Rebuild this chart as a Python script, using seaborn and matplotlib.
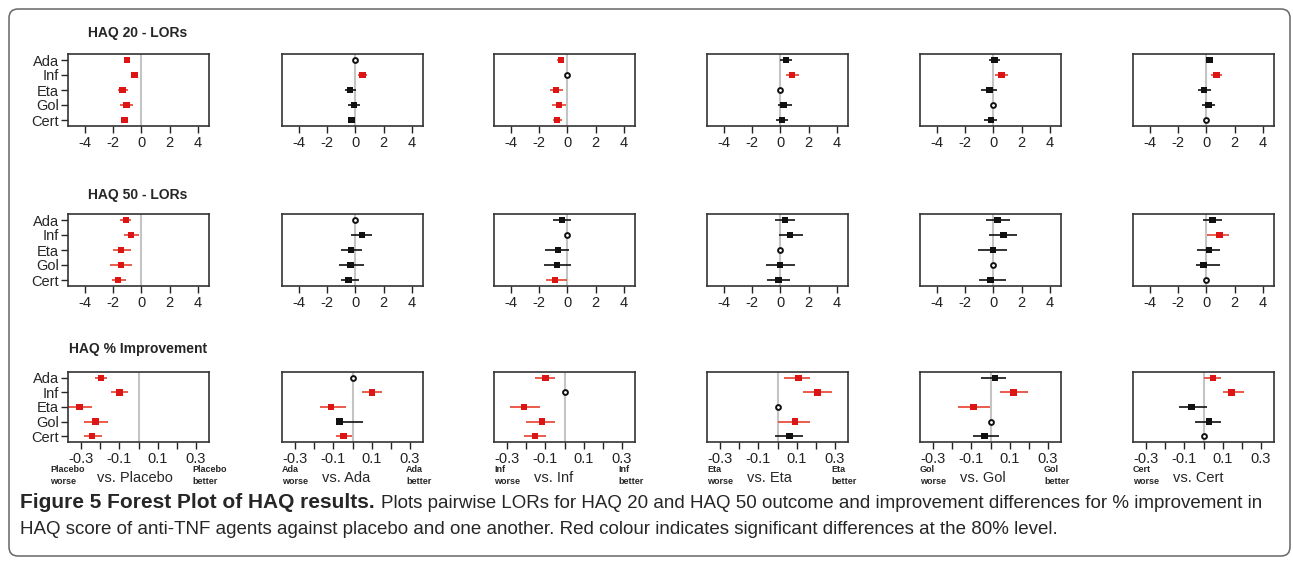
import numpy as np
import pandas as pd
import matplotlib
matplotlib.use("Agg")
import matplotlib.pyplot as plt
import seaborn as sns
from matplotlib.patches import FancyBboxPatch
from matplotlib.transforms import IdentityTransform

# ---------------------------------------------------------------
# data (None = comparator itself)
# ---------------------------------------------------------------
drugs = ["Ada", "Inf", "Eta", "Gol", "Cert"]
comparators = ["Placebo", "Ada", "Inf", "Eta", "Gol", "Cert"]
row_titles = ["HAQ 20 - LORs", "HAQ 50 - LORs", "HAQ % Improvement"]

haq20_est = [[-1.0, -0.47, -1.32, -1.06, -1.2],
             [None, 0.5, -0.38, -0.1, -0.26],
             [-0.45, None, -0.79, -0.6, -0.74],
             [0.4, 0.83, None, 0.24, 0.12],
             [0.07, 0.57, -0.28, None, -0.17],
             [0.21, 0.73, -0.17, 0.17, None]]
haq20_lo = [[-1.2, -0.7, -1.67, -1.5, -1.36],
            [None, 0.17, -0.74, -0.5, -0.43],
            [-0.76, None, -1.24, -1.1, -1.05],
            [0.0, 0.38, None, -0.19, -0.3],
            [-0.33, 0.1, -0.88, None, -0.64],
            [-0.02, 0.36, -0.59, -0.28, None]]
haq20_hi = [[-0.8, -0.25, -0.95, -0.6, -0.97],
            [None, 0.85, 0.05, 0.33, 0.0],
            [-0.21, None, -0.31, -0.07, -0.38],
            [0.83, 1.3, None, 0.83, 0.57],
            [0.5, 1.07, 0.26, None, 0.28],
            [0.5, 1.09, 0.36, 0.62, None]]
haq20_sig = [[1, 1, 1, 1, 1], [0, 1, 0, 0, 0], [1, 0, 1, 1, 1],
             [0, 1, 0, 0, 0], [0, 1, 0, 0, 0], [0, 1, 0, 0, 0]]

haq50_est = [[-1.1, -0.73, -1.43, -1.43, -1.65],
             [None, 0.47, -0.29, -0.36, -0.48],
             [-0.38, None, -0.67, -0.74, -0.86],
             [0.33, 0.69, None, -0.02, -0.14],
             [0.31, 0.71, -0.02, None, -0.21],
             [0.45, 0.92, 0.19, -0.19, None]]
haq50_lo = [[-1.53, -1.25, -2.02, -2.19, -2.1],
            [None, -0.29, -1.02, -1.19, -1.0],
            [-1.05, None, -1.57, -1.64, -1.52],
            [-0.4, -0.07, None, -1.0, -0.93],
            [-0.55, -0.29, -1.07, None, -1.0],
            [-0.21, 0.07, -0.69, -0.73, None]]
haq50_hi = [[-0.7, -0.14, -0.75, -0.66, -1.06],
            [None, 1.19, 0.47, 0.59, 0.24],
            [0.29, None, 0.14, 0.29, -0.02],
            [1.07, 1.64, None, 1.07, 0.67],
            [1.19, 1.71, 1.0, None, 0.88],
            [1.09, 1.61, 0.97, 0.97, None]]
haq50_sig = [[1, 1, 1, 1, 1], [0, 0, 0, 0, 0], [0, 0, 0, 0, 1],
             [0, 0, 0, 0, 0], [0, 0, 0, 0, 0], [0, 1, 0, 0, 0]]

imp_est = [[-0.198, -0.1, -0.309, -0.226, -0.243],
           [None, 0.102, -0.113, -0.068, -0.047],
           [-0.099, None, -0.212, -0.118, -0.154],
           [0.111, 0.209, None, 0.091, 0.063],
           [0.023, 0.121, -0.089, None, -0.032],
           [0.05, 0.147, -0.062, 0.03, None]]
imp_lo = [[-0.23, -0.146, -0.38, -0.288, -0.288],
          [None, 0.048, -0.17, -0.077, -0.086],
          [-0.154, None, -0.284, -0.203, -0.214],
          [0.036, 0.132, None, 0.0, -0.014],
          [-0.052, 0.05, -0.169, None, -0.091],
          [0.004, 0.1, -0.13, -0.043, None]]
imp_hi = [[-0.164, -0.056, -0.242, -0.162, -0.194],
          [None, 0.156, -0.036, 0.054, -0.005],
          [-0.05, None, -0.127, -0.048, -0.097],
          [0.173, 0.284, None, 0.173, 0.132],
          [0.083, 0.199, -0.005, None, 0.043],
          [0.092, 0.215, 0.016, 0.092, None]]
imp_sig = [[1, 1, 1, 1, 1], [0, 1, 1, 0, 1], [1, 0, 1, 1, 1],
           [1, 1, 0, 1, 0], [0, 1, 1, 0, 0], [1, 1, 0, 0, 0]]

lor_ticks = [-4, -2, 0, 2, 4]
lor_ticklabels = ["-4", "-2", "0", "2", "4"]
imp_ticks = [-0.3, -0.2, -0.1, 0.0, 0.1, 0.2, 0.3]
imp_ticklabels = ["-0.3", "", "-0.1", "", "0.1", "", "0.3"]

caption_bold = "Figure 5 Forest Plot of HAQ results."
caption_line1 = ("Plots pairwise LORs for HAQ 20 and HAQ 50 outcome and improvement "
                 "differences for % improvement in")
caption_line2 = ("HAQ score of anti-TNF agents against placebo and one another. Red colour "
                 "indicates significant differences at the 80% level.")

# ---------------------------------------------------------------
# style
# ---------------------------------------------------------------
sns.set_style("white")
plt.rcParams["font.family"] = ["Liberation Sans", "DejaVu Sans"]
plt.rcParams["axes.unicode_minus"] = False

RED = "#dc1414"
RED_LINE = "#e8402f"
BLACK = "#111111"
W, H = 1293, 563

fig = plt.figure(figsize=(W / 100, H / 100), dpi=100)

col_left = [68, 282, 494, 707, 920, 1133]
col_w = 141
row_top = [54, 214, 372]
row_h = [72, 72, 70]

rows = [
    (haq20_est, haq20_lo, haq20_hi, haq20_sig),
    (haq50_est, haq50_lo, haq50_hi, haq50_sig),
    (imp_est, imp_lo, imp_hi, imp_sig),
]

for r, (est, lo, hi, sig) in enumerate(rows):
    for c in range(6):
        ax = fig.add_axes([col_left[c] / W, 1 - (row_top[r] + row_h[r]) / H,
                           col_w / W, row_h[r] / H])
        pos = np.arange(1, 6)
        df = pd.DataFrame({"drug": drugs, "pos": pos, "est": est[c],
                           "lo": lo[c], "hi": hi[c], "sig": sig[c]})
        ref = df[df["est"].isna()]
        df = df.dropna()
        df["sig"] = df["sig"].astype(bool)

        ax.axvline(0, color="#c4c4c4", lw=1.5, zorder=1)
        ax.hlines(df["pos"], df["lo"], df["hi"],
                  colors=[RED_LINE if s else BLACK for s in df["sig"]],
                  lw=1.2, zorder=2)
        sns.scatterplot(data=df, x="est", y="pos", hue="sig",
                        palette={True: RED, False: BLACK}, marker="s", s=22,
                        linewidth=0, legend=False, ax=ax, zorder=3)
        if len(ref):
            ax.scatter(np.zeros(len(ref)), ref["pos"], s=12, facecolor="white",
                       edgecolor=BLACK, linewidth=1.4, zorder=4)

        if r < 2:
            ax.set_xlim(-5.2, 4.8)
            ax.set_xticks(lor_ticks)
            ax.set_xticklabels(lor_ticklabels)
        else:
            ax.set_xlim(-0.37, 0.37)
            ax.set_xticks(imp_ticks)
            ax.set_xticklabels(imp_ticklabels)
        ax.set_ylim(5.4, 0.6)
        ax.set_yticks(pos)
        if c == 0:
            ax.set_yticklabels(drugs)
            ax.tick_params(axis="y", direction="out", length=5, width=1,
                           pad=1.5, labelsize=10.5, left=True)
        else:
            ax.set_yticklabels([])
            ax.tick_params(axis="y", left=False)
        ax.tick_params(axis="x", direction="out", length=5, width=1, pad=2,
                       labelsize=10.5, bottom=True, colors="#222222")
        ax.set_xlabel("")
        ax.set_ylabel("")
        for sp in ax.spines.values():
            sp.set_visible(True)
            sp.set_color("#333333")
            sp.set_linewidth(1.2)

        # labels under the % improvement panels
        if r == 2:
            name = comparators[c]
            xl = col_left[c] + (-18 if c == 0 else 0)
            fig.text(xl / W, 1 - 469 / H, name, fontsize=6.5, ha="left",
                     va="center", fontweight="bold")
            fig.text(xl / W, 1 - 481 / H, "worse", fontsize=6.5, ha="left",
                     va="center", fontweight="bold")
            xv = col_left[c] + (29 if c == 0 else 40)
            fig.text(xv / W, 1 - 478 / H, "vs. " + name, fontsize=10.5,
                     ha="left", va="center")
            if c < 5:
                xb = col_left[c] + col_w - 17
                fig.text(xb / W, 1 - 469 / H, name, fontsize=6.5, ha="left",
                         va="center", fontweight="bold")
                fig.text(xb / W, 1 - 481 / H, "better", fontsize=6.5,
                         ha="left", va="center", fontweight="bold")

# row titles
title_y = [33, 195, 349]
for r in range(3):
    fig.text(138 / W, 1 - title_y[r] / H, row_titles[r], fontsize=10,
             fontweight="bold", ha="center", va="center")

# caption
renderer = fig.canvas.get_renderer()
tb = fig.text(20 / W, 1 - 503 / H, caption_bold, fontsize=15,
              fontweight="bold", ha="left", va="center")
bb = tb.get_window_extent(renderer)
fig.text((bb.x1 + 6) / W, 1 - 503 / H, caption_line1, fontsize=13.5,
         ha="left", va="center")
fig.text(20 / W, 1 - 530 / H, caption_line2, fontsize=13.5,
         ha="left", va="center")

# rounded frame round the figure
frame = FancyBboxPatch((9, H - 556), 1281, 547,
                       boxstyle="round,pad=0,rounding_size=9",
                       transform=IdentityTransform(), facecolor="none",
                       edgecolor="#666666", lw=1.1)
fig.add_artist(frame)

fig.savefig("out.png", dpi=100)
